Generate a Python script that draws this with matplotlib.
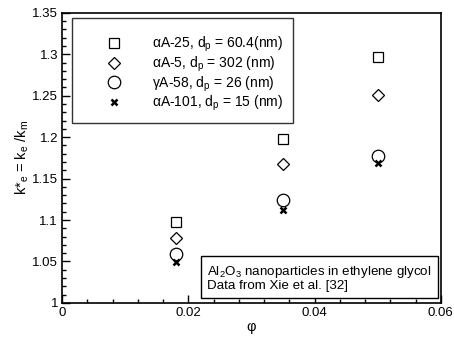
import numpy as np
import matplotlib.pyplot as plt

plt.rcParams['font.family'] = ['Liberation Sans', 'DejaVu Sans']
plt.rcParams['mathtext.default'] = 'regular'

# volume fraction
phi = [0.018, 0.035, 0.050]

# measured k*_e for each alumina sample (Xie et al.)
k_A25 = [1.098, 1.198, 1.297]
k_A5 = [1.078, 1.167, 1.251]
k_g58 = [1.059, 1.124, 1.177]
k_A101 = [1.049, 1.112, 1.169]

labels = [r'αA-25, d$_p$ = 60.4(nm)',
          r'αA-5, d$_p$ = 302 (nm)',
          r'γA-58, d$_p$ = 26 (nm)',
          r'αA-101, d$_p$ = 15 (nm)']

xticks = [0, 0.02, 0.04, 0.06]
xtick_labels = ['0', '0.02', '0.04', '0.06']
yticks = [1, 1.05, 1.1, 1.15, 1.2, 1.25, 1.3, 1.35]
ytick_labels = ['1', '1.05', '1.1', '1.15', '1.2', '1.25', '1.3', '1.35']

fig = plt.figure(figsize=(4.54, 3.45), dpi=100)
ax = fig.add_axes([0.137, 0.122, 0.834, 0.841])

ax.plot(phi, k_A25, 's', ms=7, mfc='none', mec='black', mew=0.9, label=labels[0])
ax.plot(phi, k_A5, 'D', ms=6.5, mfc='none', mec='black', mew=0.9, label=labels[1])
ax.plot(phi, k_g58, 'o', ms=9, mfc='none', mec='black', mew=0.9, label=labels[2])
ax.plot(phi, k_A101, 'x', ms=4.5, mec='black', mew=1.8, label=labels[3])

ax.set_xlim(0, 0.06)
ax.set_ylim(1, 1.35)
ax.set_xticks(xticks)
ax.set_xticklabels(xtick_labels)
ax.set_xticks(np.arange(0, 0.0601, 0.004), minor=True)
ax.set_yticks(yticks)
ax.set_yticklabels(ytick_labels)
ax.set_yticks(np.arange(1, 1.3501, 0.01), minor=True)
ax.tick_params(which='both', direction='in', labelsize=9.5, width=1, color='black')
ax.tick_params(which='major', length=6, pad=3)
ax.tick_params(which='minor', length=3)
for s in ax.spines.values():
    s.set_linewidth(1.2)

ax.set_xlabel('φ', fontsize=10.5, labelpad=1)
ax.set_ylabel(r'k*$_e$ = k$_e$ /k$_m$', fontsize=10.5, labelpad=1)

# blank small title gives the extra space above the first row
leg = ax.legend(loc='upper left', bbox_to_anchor=(0.026, 0.983), borderaxespad=0,
                fontsize=10, frameon=True, fancybox=False, edgecolor='black',
                handlelength=4.7, handletextpad=0.36, labelspacing=0.03,
                borderpad=0.7, numpoints=1, title=' ', title_fontsize=5)
leg.get_frame().set_linewidth(1.0)

ax.text(0.383, 0.038, 'Al$_2$O$_3$ nanoparticles in ethylene glycol\nData from Xie et al. [32]',
        transform=ax.transAxes, ha='left', va='bottom', fontsize=9.6, linespacing=1.0,
        bbox=dict(boxstyle='square', pad=0.45, fc='white', ec='black', lw=1.0))

fig.savefig('out.png', dpi=100)
